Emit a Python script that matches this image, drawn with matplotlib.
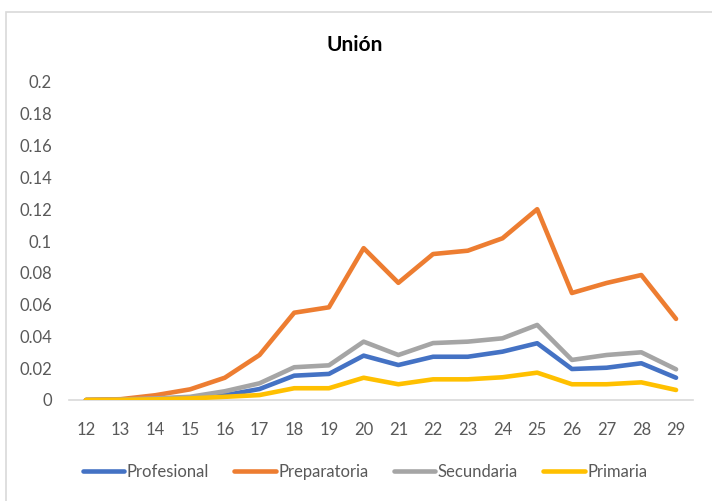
import matplotlib
matplotlib.use("Agg")
import matplotlib.pyplot as plt
from matplotlib.patches import Rectangle

ages = [12, 13, 14, 15, 16, 17, 18, 19, 20, 21, 22, 23, 24, 25, 26, 27, 28, 29]
profesional = [0.0, 0.0002, 0.0008, 0.0015, 0.003, 0.0069, 0.0153, 0.0164, 0.0279, 0.022,
               0.0272, 0.0272, 0.0304, 0.0357, 0.0195, 0.0203, 0.0231, 0.014]
preparatoria = [0.0, 0.0005, 0.003, 0.0067, 0.014, 0.0283, 0.0549, 0.0583, 0.0955, 0.0737,
                0.0918, 0.0939, 0.1017, 0.120, 0.0673, 0.0736, 0.0786, 0.051]
secundaria = [0.0, 0.0003, 0.001, 0.002, 0.0055, 0.0105, 0.0206, 0.0218, 0.0367, 0.0283,
              0.0358, 0.0367, 0.0388, 0.0472, 0.0252, 0.0283, 0.030, 0.0193]
primaria = [0.0, 0.0001, 0.0004, 0.001, 0.002, 0.0031, 0.0074, 0.0074, 0.014, 0.0099,
            0.013, 0.013, 0.0143, 0.0172, 0.0099, 0.0099, 0.0111, 0.0063]
series_names = ["Profesional", "Preparatoria", "Secundaria", "Primaria"]
yticks = [0, 0.02, 0.04, 0.06, 0.08, 0.1, 0.12, 0.14, 0.16, 0.18, 0.2]
ytick_labels = ["0", "0.02", "0.04", "0.06", "0.08", "0.1", "0.12", "0.14", "0.16", "0.18", "0.2"]
title = "Unión"

colors = ["#4472C4", "#ED7D31", "#A5A5A5", "#FFC000"]
plt.rcParams['font.family'] = ['Lato', 'DejaVu Sans']

W, H = 712, 501
fig = plt.figure(figsize=(W / 100, H / 100), dpi=100)
fig.patch.set_facecolor("white")

# chart frame
fig.add_artist(Rectangle((6 / W, -0.05), 1.0, 1 - 12 / H + 0.05, transform=fig.transFigure,
                         fill=False, edgecolor="#D9D9D9", linewidth=1.2))

left, right = 68.6 / W, 693.4 / W
bottom, top = (H - 400) / H, (H - 82) / H
ax = fig.add_axes([left, bottom, right - left, top - bottom])

for vals, name, c in zip([profesional, preparatoria, secundaria, primaria], series_names, colors):
    ax.plot(ages, vals, color=c, linewidth=3.3, label=name, solid_capstyle="round",
            solid_joinstyle="round", zorder=3)

ax.set_xlim(11.5, 29.5)
ax.set_ylim(0, 0.2)
ax.set_xticks(ages)
ax.set_xticklabels([str(a) for a in ages])
ax.set_yticks(yticks)
ax.set_yticklabels(ytick_labels)
ax.tick_params(axis="both", length=0, labelsize=12, labelcolor="#595959")
ax.tick_params(axis="x", pad=16)
ax.tick_params(axis="y", pad=12)
for s in ["top", "right", "left"]:
    ax.spines[s].set_visible(False)
ax.spines["bottom"].set_color("#D9D9D9")
ax.spines["bottom"].set_linewidth(1.2)
ax.set_facecolor("none")

fig.text(355 / W, 1 - 45 / H, title, ha="center", va="center", fontsize=15,
         fontweight="bold", color="#000000")

leg = fig.legend(loc="center", bbox_to_anchor=(365 / W, 1 - 472 / H), ncol=4, frameon=False,
                 fontsize=12, handlelength=2.5, handletextpad=0.15, columnspacing=1.5)
for t in leg.get_texts():
    t.set_color("#595959")

fig.savefig("out.png", dpi=100)
